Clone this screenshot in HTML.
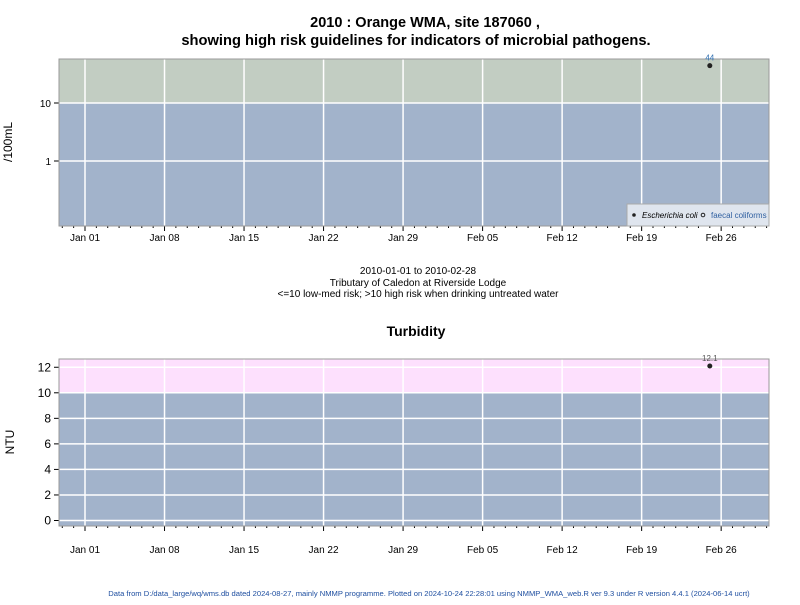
<!DOCTYPE html>
<html><head><meta charset="utf-8"><style>
body{margin:0;background:#fff;font-family:"Liberation Sans",sans-serif}
svg text{font-family:"Liberation Sans",sans-serif}
</style></head><body>
<svg id="c" width="800" height="600" xmlns="http://www.w3.org/2000/svg">
<text x="425" y="27" text-anchor="middle" font-size="14.5" font-weight="bold">2010 : Orange WMA, site 187060 ,</text>
<text x="416" y="45" text-anchor="middle" font-size="14.7" font-weight="bold">showing high risk guidelines for indicators of microbial pathogens.</text>
<text x="418" y="274" text-anchor="middle" font-size="10">2010-01-01 to 2010-02-28</text>
<text x="418" y="286" text-anchor="middle" font-size="10">Tributary of Caledon at Riverside Lodge</text>
<text x="418" y="297" text-anchor="middle" font-size="10">&lt;=10 low-med risk; &gt;10 high risk when drinking untreated water</text>
<text x="416" y="336" text-anchor="middle" font-size="14" font-weight="bold">Turbidity</text>
<text x="12" y="142" text-anchor="middle" font-size="12" transform="rotate(-90 12 142)">/100mL</text>
<text x="14" y="442" text-anchor="middle" font-size="12" transform="rotate(-90 14 442)">NTU</text>
<text x="429" y="596" text-anchor="middle" font-size="7.6" fill="#1f4fa0">Data from D:/data_large/wq/wms.db dated 2024-08-27, mainly NMMP programme. Plotted on 2024-10-24 22:28:01 using NMMP_WMA_web.R ver 9.3 under R version 4.4.1 (2024-06-14 ucrt)</text>
<g id="top"></g><g id="bot"></g>
</svg>
<script>
const xTickLabels=["Jan 01","Jan 08","Jan 15","Jan 22","Jan 29","Feb 05","Feb 12","Feb 19","Feb 26"];
const ecoliDays=[55];
const ecoliValues=[44];
const turbDays=[55];
const turbValues=[12.1];
const topYTicks=[1,10];
const botYTicks=[0,2,4,6,8,10,12];
const NS="http://www.w3.org/2000/svg";
const X0=59,X1=769;
function x(d){return 85+d*11.36;}
function yTop(v){return 103-(Math.log10(v)-1)*58;}
function yBot(v){return 520.5-v*12.77;}
function mk(p,t,a){const e=document.createElementNS(NS,t);for(const k in a)e.setAttribute(k,a[k]);p.appendChild(e);return e;}
function panel(g,top,bot,yf,thr,hiCol,ticks,days,vals,labelCol,pre,lblOff){
  mk(g,'rect',{x:X0,y:top,width:X1-X0,height:bot-top,fill:'#a2b3cb'});
  const hi=mk(g,'rect',{x:X0,y:top,width:X1-X0,height:yf(thr)-top,fill:hiCol});
  
  
  ticks.forEach(v=>{const y=yf(v);
    mk(g,'line',{x1:X0,x2:X1,y1:y,y2:y,stroke:'#fff','stroke-width':1.5});
    mk(g,'line',{x1:X0-5,x2:X0,y1:y,y2:y,stroke:'#000'});
    const t=mk(g,'text',{x:X0-8,y:y+4,'text-anchor':'end','font-size':pre==='top'?10:12});
    t.textContent=v;
    
    
  });
  xTickLabels.forEach((l,i)=>{const xx=x(i*7);
    mk(g,'line',{x1:xx,x2:xx,y1:top,y2:bot,stroke:'#fff','stroke-width':1.5});
    mk(g,'line',{x1:xx,x2:xx,y1:bot,y2:bot+5,stroke:'#000'});
    const t=mk(g,'text',{x:xx,y:bot+lblOff,'text-anchor':'middle','font-size':10});
    t.textContent=l;
    
    
  });
  for(let d=-2;d<=60;d++){const xx=x(d);if(xx<X0||xx>X1||d%7===0)continue;
    mk(g,'line',{x1:xx,x2:xx,y1:bot,y2:bot+2,stroke:'#000'});}
  mk(g,'rect',{x:X0,y:top,width:X1-X0,height:bot-top,fill:'none',stroke:'#999'});
  days.forEach((d,i)=>{
    const p=mk(g,'circle',{cx:x(d),cy:yf(vals[i]),r:2.5,fill:'#222'});
    
    
    const t=mk(g,'text',{x:x(d),y:yf(vals[i])-5,'text-anchor':'middle','font-size':8,fill:labelCol});
    t.textContent=vals[i];
    
    
  });
}
panel(document.getElementById('top'),59,226,yTop,10,'#c2cdc2',topYTicks,ecoliDays,ecoliValues,'#2f6fb0','top',15);
panel(document.getElementById('bot'),359,526,yBot,10,'#fde0fd',botYTicks,turbDays,turbValues,'#555','bottom',27);
const g=document.getElementById('top');
const lg=mk(g,'g',{});


mk(lg,'rect',{x:627,y:204,width:142,height:22,fill:'#dfe5ee',stroke:'#aaa'});
mk(lg,'circle',{cx:634,cy:215,r:1.8,fill:'#222'});
const t1=mk(lg,'text',{x:642,y:218,'font-size':8,'font-style':'italic'});t1.textContent='Escherichia coli';


mk(lg,'circle',{cx:703,cy:215,r:1.8,fill:'none',stroke:'#222'});
const t2=mk(lg,'text',{x:711,y:218,'font-size':8,fill:'#2f5fa0'});t2.textContent='faecal coliforms';


</script>
</body></html>
